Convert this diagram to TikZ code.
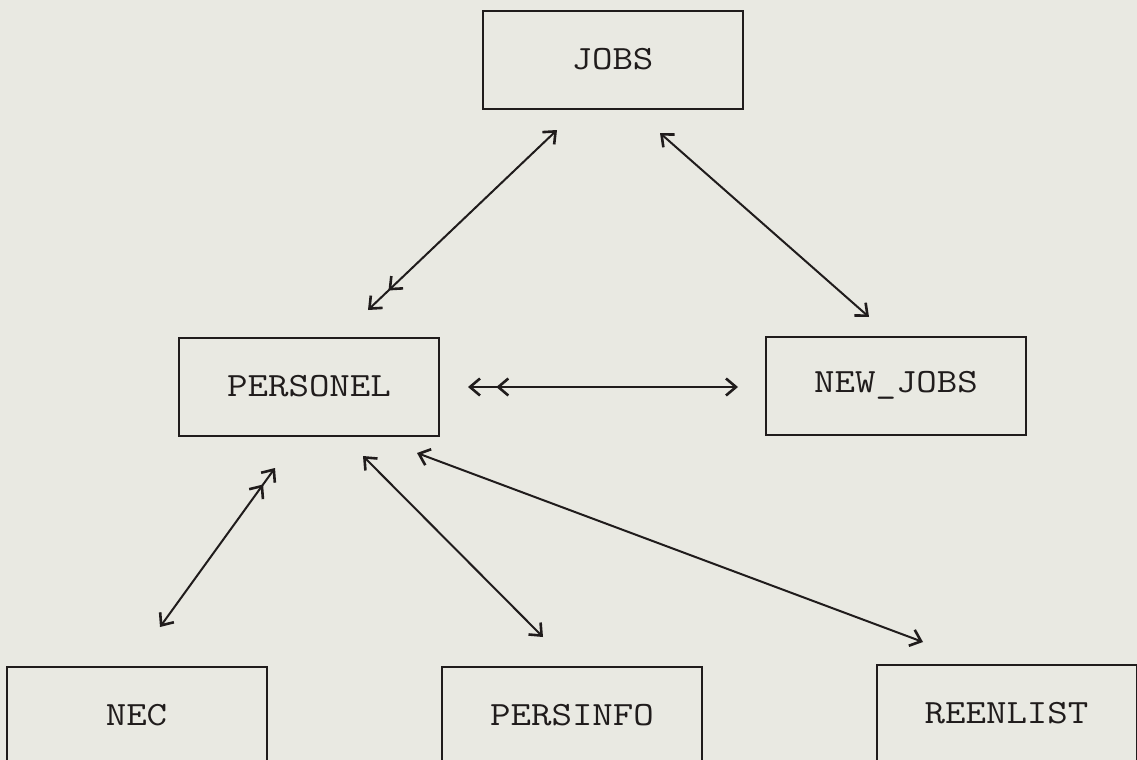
\documentclass[tikz,border=0pt]{standalone}
\usepackage{fontspec}
\usepackage{graphicx}
\usepackage{xcolor}
\usepackage{tikz}
\usetikzlibrary{arrows.meta,positioning}
\definecolor{paper}{RGB}{233,233,226}
\definecolor{ink}{RGB}{32,28,28}
\newcommand{\tname}[1]{\scalebox{1.17}[1]{#1}}
\tikzset{
  barb/.tip={Straight Barb[length=5pt,width=8.5pt,line width=1.3pt]},
  dbarb/.tip={Straight Barb[length=5pt,width=8.5pt,line width=1.3pt,sep=7.5pt] Straight Barb[length=5pt,width=8.5pt,line width=1.3pt]},
  sbarb/.tip={Straight Barb[length=5pt,width=8.5pt,line width=1.3pt,sep=3.5pt] Straight Barb[length=5pt,width=8.5pt,line width=1.3pt]},
  tbl/.style={draw=ink,line width=1pt,minimum width=130pt,minimum height=49pt,inner sep=0pt,
    text=ink,font=\ttfamily\fontsize{17}{20}\selectfont},
  link/.style={draw=ink,line width=1pt}
}
\begin{document}
\begin{tikzpicture}[x=0.5pt,y=-0.5pt]
    \clip (0,0) rectangle (1137,760);
    \fill[paper] (0,0) rectangle (1137,760);
    \node[tbl] (jobs) at (612.5,59.5) {\tname{JOBS}};
    \node[tbl] (personel) at (309,386.5) {\tname{PERSONEL}};
    \node[tbl] (newjobs) at (896,385.5) {\tname{NEW\_JOBS}};
    \node[tbl] (nec) at (136.5,715.5) {\tname{NEC}};
    \node[tbl] (persinfo) at (572,715.5) {\tname{PERSINFO}};
    \node[tbl] (reenlist) at (1006.5,713.5) {\tname{REENLIST}};
    \coordinate (jp1) at (557,130);
    \coordinate (jp2) at (368,310);
    \coordinate (jn1) at (660,133);
    \coordinate (jn2) at (869,317);
    \coordinate (pn1) at (468,387);
    \coordinate (pn2) at (738,387);
    \coordinate (np1) at (275,468);
    \coordinate (np2) at (160,627);
    \coordinate (pi1) at (363,456);
    \coordinate (pi2) at (543,637);
    \coordinate (pr1) at (417,453);
    \coordinate (pr2) at (923,642);
    \draw[link,{barb}-{dbarb}] (jp1) -- (jp2);
    \draw[link,{barb}-{barb}] (jn1) -- (jn2);
    \draw[link,{dbarb}-{barb}] (pn1) -- (pn2);
    \draw[link,{sbarb}-{barb}] (np1) -- (np2);
    \draw[link,{barb}-{barb}] (pi1) -- (pi2);
    \draw[link,{barb}-{barb}] (pr1) -- (pr2);
  \end{tikzpicture}
\end{document}
